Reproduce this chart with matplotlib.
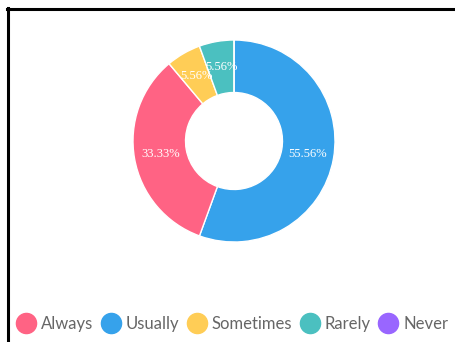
import matplotlib.pyplot as plt
from matplotlib.lines import Line2D

# survey answers, legend order
labels = ['Always', 'Usually', 'Sometimes', 'Rarely', 'Never']
values = [33.33, 55.56, 5.56, 5.56, 0.0]
colors = ['#FF6384', '#36A2EB', '#FFCD56', '#4BC0C0', '#9966FF']

# wedges run clockwise from the top in this order
draw_order = [1, 0, 2, 3, 4]

W, H = 456, 342
fig = plt.figure(figsize=(W / 100, H / 100), dpi=100)
fig.patch.set_facecolor('white')

# donut axes placed by pixel centre and radius
cx, cy, r = 234, 141, 101
ax = fig.add_axes([(cx - r) / W, 1 - (cy + r) / H, 2 * r / W, 2 * r / H])

pct_labels = ['%.2f%%' % values[i] if values[i] > 0 else '' for i in draw_order]
wedges, texts = ax.pie(
    [values[i] for i in draw_order],
    colors=[colors[i] for i in draw_order],
    labels=pct_labels, labeldistance=0.74,
    startangle=90, counterclock=False, radius=1.0,
    wedgeprops=dict(width=0.52, edgecolor='white', linewidth=1.0),
    textprops=dict(color='white', family='Liberation Serif', fontsize=9),
)
for t in texts:
    t.set_ha('center')
    t.set_va('center')
ax.set_xlim(-1, 1)
ax.set_ylim(-1, 1)
ax.set_aspect('auto')

# legend along the bottom
handles = [Line2D([], [], marker='o', linestyle='', markersize=14.5,
                  markerfacecolor=c, markeredgecolor=c) for c in colors]
fig.legend(handles, labels, loc='center', bbox_to_anchor=(233 / W, 1 - 324 / H),
           ncol=5, frameon=False, handlelength=1.0, handletextpad=0.4,
           columnspacing=0.55, prop=dict(family='Lato', size=12),
           labelcolor='#666666')

# black frame on the top and left edges
fig.add_artist(Line2D([8 / W, 8 / W], [1 - 8 / H, 0], color='black', lw=2.2,
                      transform=fig.transFigure))
fig.add_artist(Line2D([7 / W, 1], [1 - 9 / H, 1 - 9 / H], color='black', lw=2.2,
                      transform=fig.transFigure))

fig.savefig('out.png', dpi=100, facecolor='white')
